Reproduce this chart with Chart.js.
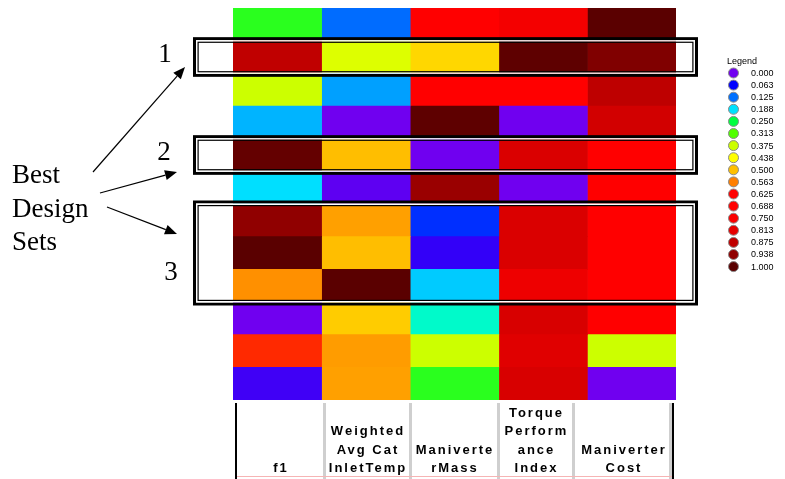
<!DOCTYPE html>
<html>
<head>
<meta charset="utf-8">
<script src="https://cdn.jsdelivr.net/npm/chart.js@4"></script>
<style>
  html, body { margin: 0; padding: 0; background: #fff; }
</style>
</head>
<body>
<canvas id="heat" width="785" height="479"></canvas>
<script>
// heatmap columns (objectives) and their header lines
const columns = ['f1', 'Weighted Avg Cat InletTemp', 'ManiverterMass', 'Torque Performance Index', 'Maniverter Cost'];
const columnLines = [['f1'], ['Weighted', 'Avg Cat', 'InletTemp'], ['Maniverte', 'rMass'], ['Torque', 'Perform', 'ance', 'Index'], ['Maniverter', 'Cost']];

// normalised values per design (12 rows, top to bottom)
const f1         = [0.283, 0.875, 0.375, 0.163, 0.988, 0.187, 0.938, 1.000, 0.547, 0.000, 0.605, 0.027];
const avgCatTemp = [0.123, 0.396, 0.152, 0.000, 0.502, 0.010, 0.531, 0.502, 1.000, 0.488, 0.535, 0.531];
const mass       = [0.660, 0.477, 0.660, 0.995, 0.000, 0.924, 0.089, 0.034, 0.176, 0.205, 0.375, 0.283];
const torque     = [0.769, 0.995, 0.660, 0.000, 0.832, 0.000, 0.832, 0.832, 0.788, 0.836, 0.823, 0.836];
const cost       = [1.000, 0.956, 0.878, 0.845, 0.660, 0.660, 0.660, 0.660, 0.660, 0.660, 0.375, 0.000];
const values = [f1, avgCatTemp, mass, torque, cost];

// legend ticks
const legendTicks = ['0.000', '0.063', '0.125', '0.188', '0.250', '0.313', '0.375', '0.438', '0.500',
                     '0.563', '0.625', '0.688', '0.750', '0.813', '0.875', '0.938', '1.000'];

// best design sets (row ranges)
const bestSets = [{ label: '1', from: 1, to: 2 }, { label: '2', from: 4, to: 5 }, { label: '3', from: 6, to: 9 }];

// colour scale stops
const stops = [
  [112, 0, 240], [0, 0, 255], [0, 112, 255], [0, 224, 255], [0, 255, 64], [80, 255, 0],
  [204, 255, 0], [255, 255, 0], [255, 192, 0], [255, 128, 0], [255, 0, 0], [255, 0, 0],
  [250, 0, 0], [230, 0, 0], [192, 0, 0], [144, 0, 0], [90, 0, 0]
];
function colorFor(v) {
  const p = Math.max(0, Math.min(1, v)) * 16;
  const i = Math.min(15, Math.floor(p));
  const t = p - i;
  const a = stops[i], b = stops[i + 1];
  // green channel rises faster between cyan and green
  const c = a.map((ch, k) => Math.round(ch + (b[k] - ch) * (i === 3 && k === 1 ? Math.min(1, t * 3) : t)));
  return `rgb(${c[0]},${c[1]},${c[2]})`;
}

const serif = "'Liberation Serif', 'Times New Roman', serif";
const sans = "'Liberation Sans', Arial, sans-serif";

function arrow(ctx, x1, y1, x2, y2) {
  const ang = Math.atan2(y2 - y1, x2 - x1);
  const len = 12, half = 5;
  const bx = x2 - len * Math.cos(ang), by = y2 - len * Math.sin(ang);
  ctx.beginPath();
  ctx.moveTo(x1, y1);
  ctx.lineTo(bx, by);
  ctx.stroke();
  ctx.beginPath();
  ctx.moveTo(x2, y2);
  ctx.lineTo(bx + half * Math.sin(ang), by - half * Math.cos(ang));
  ctx.lineTo(bx - half * Math.sin(ang), by + half * Math.cos(ang));
  ctx.closePath();
  ctx.fill();
}

const annotate = {
  id: 'annotate',
  afterDatasetsDraw(chart) {
    const { ctx, chartArea: a, scales: { y } } = chart;
    ctx.save();

    // double-line boxes around the best sets
    const labelRow = [0.45, 0.45, 2.1];
    const labelX = [165, 164, 171];
    bestSets.forEach((s, i) => {
      const L = a.left - 40, R = a.right + 22;
      const T = y.getPixelForValue(s.from) - 3.5, B = y.getPixelForValue(s.to) + 3.5;
      const rect = (inset, w, col) => {
        ctx.strokeStyle = col;
        ctx.lineWidth = w;
        ctx.strokeRect(L + inset + w / 2, T + inset + w / 2, R - L - 2 * inset - w, B - T - 2 * inset - w);
      };
      rect(0, 3, '#000');
      rect(3, 1.5, '#fff');
      rect(4.5, 1.2, '#000');

      ctx.fillStyle = '#000';
      ctx.font = `27px ${serif}`;
      ctx.textAlign = 'center';
      ctx.textBaseline = 'middle';
      ctx.fillText(s.label, labelX[i], y.getPixelForValue(s.from + labelRow[i]));
    });

    // "Best Design Sets" text and arrows
    ctx.font = `27px ${serif}`;
    ctx.textAlign = 'left';
    ctx.textBaseline = 'alphabetic';
    ['Best', 'Design', 'Sets'].forEach((t, k) => ctx.fillText(t, 12, 183 + k * 33.5));
    ctx.strokeStyle = '#000';
    ctx.fillStyle = '#000';
    ctx.lineWidth = 1.2;
    arrow(ctx, 93, 172, 185, 67);
    arrow(ctx, 100, 193, 177, 172);
    arrow(ctx, 107, 207, 177, 234);

    // header table under the heatmap
    const edges = [235, 323, 409, 497, 572, 672];
    const top = 403, bottom = 479;
    ctx.fillStyle = '#cfcfcf';
    edges.slice(1, 5).forEach(e => ctx.fillRect(e, top, 3, bottom - top));
    ctx.fillRect(edges[5] - 3, top, 3, bottom - top);
    ctx.fillStyle = '#000';
    ctx.fillRect(edges[0], top, 2, bottom - top);
    ctx.fillRect(edges[5], top, 2, bottom - top);
    ctx.fillStyle = '#f6b4b4';
    ctx.fillRect(edges[0] + 2, 476, edges[5] - edges[0] - 2, 1);

    ctx.fillStyle = '#000';
    ctx.font = `bold 13px ${sans}`;
    ctx.letterSpacing = '2px';
    ctx.textAlign = 'center';
    columnLines.forEach((lines, i) => {
      const cx = (edges[i] + edges[i + 1]) / 2 + 2;
      lines.forEach((t, k) => ctx.fillText(t, cx, 472 - (lines.length - 1 - k) * 18.3));
    });
    ctx.letterSpacing = '0px';

    // colour legend
    ctx.font = `9px ${sans}`;
    ctx.textAlign = 'left';
    ctx.fillText('Legend', 727, 64);
    ctx.textBaseline = 'middle';
    legendTicks.forEach((t, k) => {
      const cy = 73 + k * 12.1;
      ctx.beginPath();
      ctx.arc(733.5, cy, 5, 0, Math.PI * 2);
      ctx.fillStyle = colorFor(parseFloat(t));
      ctx.fill();
      ctx.strokeStyle = '#8a8a8a';
      ctx.lineWidth = 1;
      ctx.stroke();
      ctx.fillStyle = '#000';
      ctx.fillText(t, 751, cy + 0.5);
    });

    ctx.restore();
  }
};

const ctx = document.getElementById('heat').getContext('2d');
new Chart(ctx, {
  type: 'bar',
  data: {
    labels: columns,
    datasets: columns.map((c, ci) => ({
      label: c,
      data: values[ci].map((v, r) => ({ x: c, y: [r, r + 1] })),
      backgroundColor: values[ci].map(colorFor),
      borderWidth: 0,
      barPercentage: 1,
      categoryPercentage: 1,
      grouped: false
    }))
  },
  options: {
    responsive: false,
    animation: false,
    layout: { padding: { left: 233, right: 109, top: 8, bottom: 79 } },
    scales: {
      x: { display: false },
      y: { display: false, min: 0, max: 12, reverse: true }
    },
    plugins: {
      legend: { display: false },
      tooltip: { enabled: false }
    }
  },
  plugins: [annotate]
});
</script>
</body>
</html>
